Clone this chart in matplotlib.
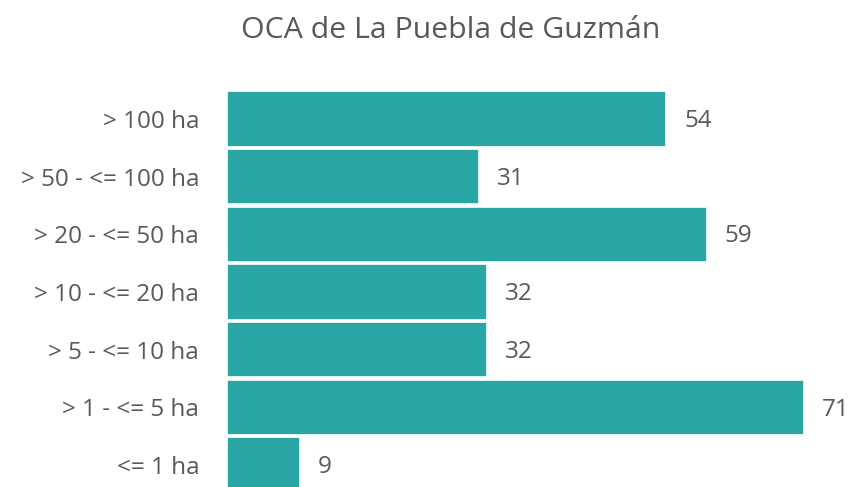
import matplotlib
matplotlib.use("Agg")
import matplotlib.pyplot as plt

categories = ["> 100 ha", "> 50 - <= 100 ha", "> 20 - <= 50 ha", "> 10 - <= 20 ha",
              "> 5 - <= 10 ha", "> 1 - <= 5 ha", "<= 1 ha"]
values = [54, 31, 59, 32, 32, 71, 9]
title = "OCA de La Puebla de Guzmán"

plt.rcParams['font.family'] = ['Open Sans', 'DejaVu Sans']
W, H = 855, 487
fig = plt.figure(figsize=(W/100, H/100), dpi=100)
left_px, top_px, bottom_px = 227, 90, 494
ax = fig.add_axes([left_px/W, (H-bottom_px)/H, (W-left_px)/W, (bottom_px-top_px)/H])

pos = list(range(len(categories)))
bars = ax.barh(pos, values, height=0.96, color="#2aa6a5", edgecolor="white", linewidth=1.2)
ax.set_ylim(len(categories)-0.5, -0.5)
ax.set_xlim(0, (W-left_px)/8.13)
ax.set_yticks(pos)
ax.set_yticklabels(categories, fontsize=17.5, color="#595959")
ax.tick_params(axis='y', length=0, pad=20)
ax.set_xticks([])
for s in ax.spines.values():
    s.set_visible(False)
for p, v in zip(pos, values):
    ax.annotate(str(v), xy=(v, p), xytext=(13, -1.5), textcoords="offset points",
                ha="left", va="center", fontsize=17.5, color="#595959")
fig.text(451/W, 1-31/H, title, ha="center", va="center", fontsize=21.8, color="#595959")
fig.savefig("out.png", dpi=100)
